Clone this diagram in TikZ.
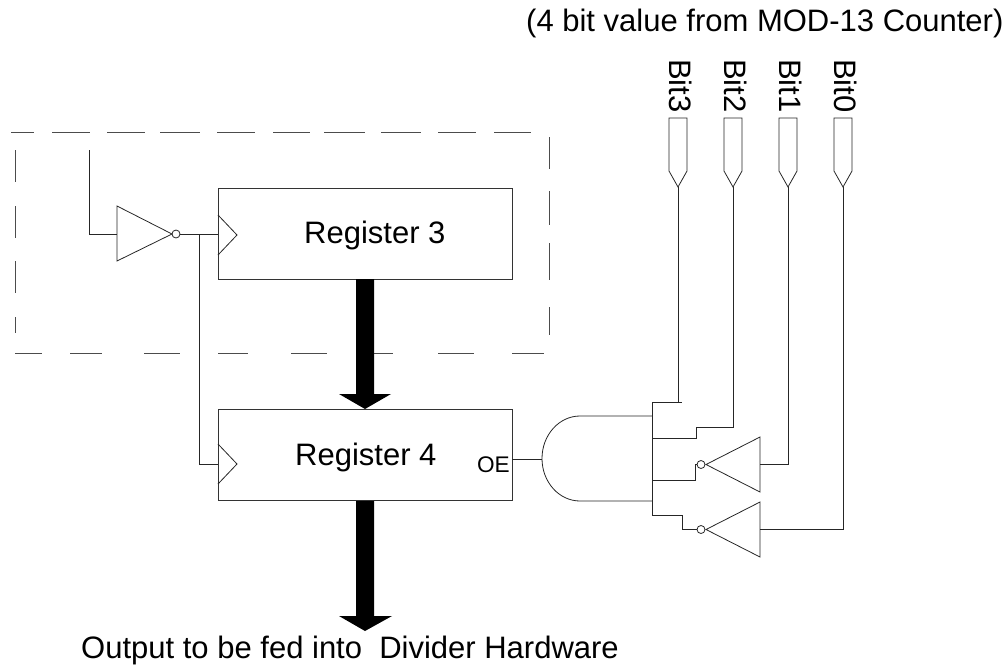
\documentclass[tikz,border=0pt]{standalone}
\usepackage{fontspec}
\setmainfont{Liberation Sans}
\tikzset{
  wire/.style={line width=0.9pt,draw=black!85,line join=miter},
  thin wire/.style={line width=0.8pt,draw=black!85},
  dashbox/.style={line width=0.9pt,draw=black!70},
  bus/.style={fill=black,draw=none},
  regbox/.style={draw=black!80,line width=1pt,fill=none,minimum width=294pt,minimum height=91pt,inner sep=0pt,outer sep=0pt},
  lab/.style={font=\fontsize{31pt}{34pt}\selectfont,inner sep=0pt,text=black},
  pinlab/.style={font=\fontsize{31pt}{34pt}\selectfont,inner sep=0pt,rotate=-90,text=black},
  bubble/.style={circle,draw=black!85,line width=0.8pt,minimum size=8pt,inner sep=0pt,outer sep=0pt},
  invgate/.style={thin wire},
}
\begin{document}
\begin{tikzpicture}[x=1pt,y=-1pt]
\useasboundingbox (0,0) rectangle (1006,667);
% dashed frame
\foreach \a/\b in {11/34,52/90,107/145,160/200,217/255,273/310,324/365,381/421,438/476,494/531}
  \draw[dashbox] (\a,132) -- (\b,132);
\foreach \a/\b in {15/42,70/102,144/180,218/248,291/327,374/393,438/474,512/544}
  \draw[dashbox] (\a,353.5) -- (\b,353.5);
\foreach \a/\b in {150/182,206/238,261/293,317/333}
  \draw[dashbox] (15.7,\a) -- (15.7,\b);
\foreach \a/\b in {137/169,191/225,243/280,307/335}
  \draw[dashbox] (549,\a) -- (549,\b);
% registers
\node[regbox,anchor=north west] (r3) at (218,188) {};
\node[regbox,anchor=north west] (r4) at (218,409.5) {};
\node[lab,anchor=base west] (r3t) at (304,243) {Register 3};
\node[lab,anchor=base west] (r4t) at (295,465) {Register 4};
\node[anchor=base east,inner sep=0pt,font=\fontsize{22.6pt}{26pt}\selectfont] (oe) at (510,472) {OE};
% clock marks
\draw[thin wire] (218,215) -- (237,235) -- (218,255);
\draw[thin wire] (218,444) -- (237,464) -- (218,484);
% buses
\fill[bus] (356,279) -- (374,279) -- (374,394) -- (391,394) -- (365,409) -- (339,394) -- (356,394) -- cycle;
\fill[bus] (356,501) -- (374,501) -- (374,616) -- (392,616) -- (365,631) -- (339,616) -- (356,616) -- cycle;
% clock inverter
\draw[invgate] (117,206) -- (117,261) -- (172,234) -- cycle;
\node[bubble] (b0) at (176,234) {};
\coordinate (cin) at (89,150);
\coordinate (cinb) at (89,234);
\coordinate (invin) at (117,234);
\coordinate (r3c) at (218,234);
\coordinate (tap) at (199,234);
\coordinate (tapb) at (199,464);
\coordinate (r4c) at (218,464);
\draw[wire] (cin) -- (cinb) -- (invin);
\draw[wire] (b0.east) -- (r3c);
\draw[wire] (tap) -- (tapb) -- (r4c);
% AND gate
\draw[thin wire] (652,416) -- (580,416) arc[start angle=270,end angle=90,x radius=38,y radius=42.5] -- (652,501);
\draw[wire] (652,402) -- (652,515);
\draw[wire] (512,459) -- (542,459);
% pins
\foreach \n/\x/\t in {p3/678/Bit3,p2/733/Bit2,p1/788/Bit1,p0/843/Bit0}{
  \draw[thin wire] (\x-9,118) -- (\x+9,118) -- (\x+9,171) -- (\x,187) -- (\x-9,171) -- cycle;
  \coordinate (\n) at (\x,187);
  \node[pinlab,anchor=center] (\n t) at (\x+3,86) {\t};
}
% inverters on bit1, bit0
\draw[invgate] (760,437) -- (760,492) -- (706,464.5) -- cycle;
\node[bubble] (b1) at (701,464.5) {};
\draw[invgate] (760,502) -- (760,557) -- (706,529.5) -- cycle;
\node[bubble] (b0b) at (701,529.5) {};
% wires from bits
\draw[wire] (p3) -- (678,402) -- (652,402) (678,402) -- (682,402);
\draw[wire] (p2) -- (733,427) -- (696,427) -- (696,438) -- (652,438);
\draw[wire] (p1) -- (788,464.5) -- (760,464.5);
\draw[wire] (p0) -- (843,529.5) -- (760,529.5);
\draw[wire] (b1.west) -- (695,464.5) -- (695,480) -- (652,480);
\draw[wire] (b0b.west) -- (682,529.5) -- (682,515) -- (652,515);
% captions
\node[lab,anchor=base west] (top) at (526,31) {(4 bit value from MOD-13 Counter)};
\node[lab,anchor=base west] (bot) at (81,658) {Output to be fed into\ \ Divider Hardware};
\end{tikzpicture}
\end{document}
